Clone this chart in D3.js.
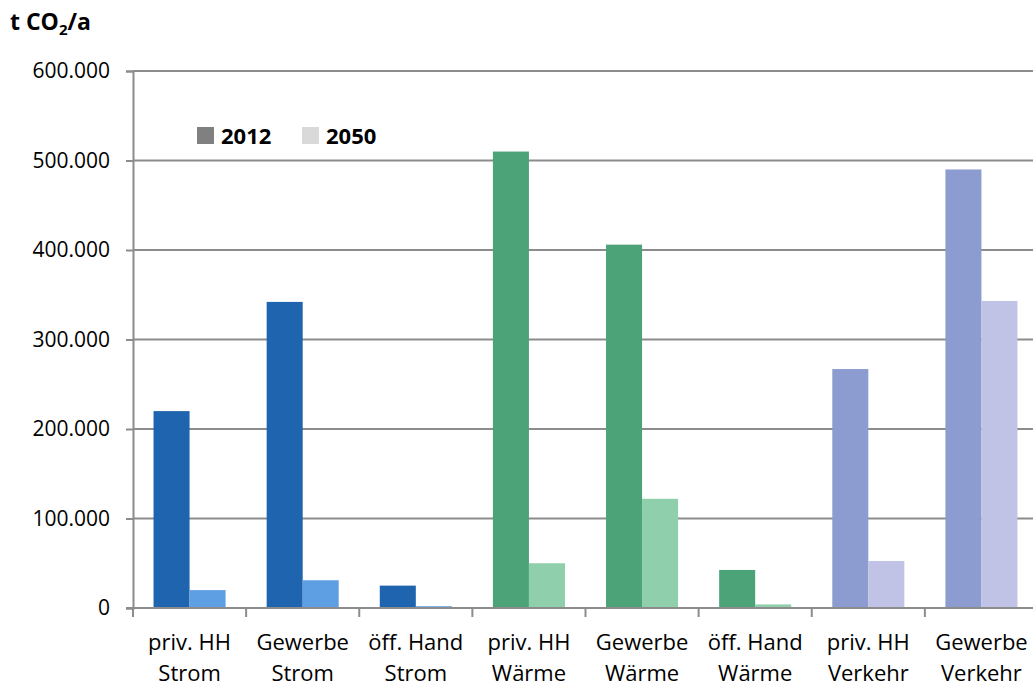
<!DOCTYPE html>
<html>
<head>
<meta charset="utf-8">
<script src="https://cdn.jsdelivr.net/npm/d3@7"></script>
<style>
  html, body { margin: 0; padding: 0; background: #fff; }
  svg { display: block; font-family: "Open Sans", Lato, sans-serif; }
</style>
</head>
<body>
<svg id="chart" width="1033" height="688"></svg>
<script>
// CO2 emissions by sector, 2012 vs. 2050 (t CO2 per year)
const categories = [
  ["priv. HH", "Strom"], ["Gewerbe", "Strom"], ["öff. Hand", "Strom"],
  ["priv. HH", "Wärme"], ["Gewerbe", "Wärme"], ["öff. Hand", "Wärme"],
  ["priv. HH", "Verkehr"], ["Gewerbe", "Verkehr"]
];
const years = ["2012", "2050"];
const values2012 = [220000, 342000, 25000, 510000, 406000, 42500, 267000, 490000];
const values2050 = [20000, 31000, 2000, 50000, 122000, 4000, 52500, 343000];
const yTicks = [0, 100000, 200000, 300000, 400000, 500000, 600000];

// colour per category group (Strom / Wärme / Verkehr) and year
const palette = {
  "Strom":   ["#1E64AE", "#5E9FE3"],
  "Wärme":   ["#4BA377", "#8FCFAB"],
  "Verkehr": ["#8D9CD0", "#C0C3E5"]
};
const legendColors = ["#808080", "#D9D9D9"];

const svg = d3.select("#chart");
const plotLeft = 133, plotRight = 1038, plotTop = 71, plotBottom = 608;

const y = d3.scaleLinear().domain([0, 600000]).range([plotBottom, plotTop]);
const x0 = d3.scaleBand().domain(d3.range(categories.length)).range([plotLeft, plotRight]).padding(0);
const x1 = d3.scaleBand().domain(years).range([0, x0.bandwidth()]).paddingInner(0).paddingOuter(0.57);

const fmt = v => d3.format(",")(v).replace(/,/g, ".");

// horizontal gridlines
svg.append("g")
  .selectAll("line")
  .data(yTicks.filter(t => t > 0))
  .join("line")
  .attr("x1", plotLeft).attr("x2", 1033)
  .attr("y1", d => y(d)).attr("y2", d => y(d))
  .attr("stroke", "#8C8C8C").attr("stroke-width", 2);

// bars
const rows = categories.map((c, i) => ({ i, group: c[1], vals: [values2012[i], values2050[i]] }));
const groups = svg.append("g").selectAll("g")
  .data(rows).join("g")
  .attr("transform", d => `translate(${x0(d.i)},0)`);
groups.selectAll("rect")
  .data(d => years.map((yr, k) => ({ yr, k, v: d.vals[k], group: d.group })))
  .join("rect")
  .attr("x", d => x1(d.yr))
  .attr("width", x1.bandwidth())
  .attr("y", d => y(d.v))
  .attr("height", d => plotBottom - y(d.v))
  .attr("fill", d => palette[d.group][d.k]);

// y axis
const yAxis = d3.axisLeft(y).tickValues(yTicks).tickFormat(fmt).tickSize(7).tickPadding(16);
const gy = svg.append("g").attr("transform", `translate(${plotLeft},0)`).call(yAxis);
gy.select(".domain").attr("stroke", "#8C8C8C").attr("stroke-width", 2);
gy.selectAll(".tick line").attr("stroke", "#8C8C8C").attr("stroke-width", 2);
gy.selectAll(".tick text").attr("font-size", 21).attr("fill", "#000")
  .attr("font-family", "'Open Sans', sans-serif");

// x axis (category boundaries as ticks)
const xb = d3.scaleLinear().domain([0, categories.length]).range([plotLeft, plotRight]);
svg.append("line")
  .attr("x1", plotLeft - 7).attr("x2", 1033)
  .attr("y1", plotBottom).attr("y2", plotBottom)
  .attr("stroke", "#8C8C8C").attr("stroke-width", 2);
svg.append("g").selectAll("line")
  .data(d3.range(categories.length + 1))
  .join("line")
  .attr("x1", d => xb(d)).attr("x2", d => xb(d))
  .attr("y1", plotBottom).attr("y2", plotBottom + 9)
  .attr("stroke", "#8C8C8C").attr("stroke-width", 2);

// category labels (two lines)
const lab = svg.append("g").selectAll("text")
  .data(categories.map((c, i) => ({ c, i })))
  .join("text")
  .attr("text-anchor", "middle")
  .attr("font-size", 22)
  .attr("fill", "#000")
  .attr("x", d => x0(d.i) + x0.bandwidth() / 2);
lab.append("tspan").attr("x", d => x0(d.i) + x0.bandwidth() / 2).attr("y", 650).text(d => d.c[0]);
lab.append("tspan").attr("x", d => x0(d.i) + x0.bandwidth() / 2).attr("y", 681).text(d => d.c[1]);

// axis title
const title = svg.append("text").attr("x", 10).attr("y", 30)
  .attr("font-size", 23).attr("font-weight", "bold").attr("fill", "#000");
title.append("tspan").text("t CO");
title.append("tspan").attr("font-size", 15).attr("dy", 5).text("2");
title.append("tspan").attr("dy", -5).text("/a");

// legend
const legend = svg.append("g").selectAll("g")
  .data(years).join("g")
  .attr("transform", (d, i) => `translate(${[197, 302][i]},127)`);
legend.append("rect").attr("width", 17).attr("height", 17)
  .attr("fill", (d, i) => legendColors[i]);
legend.append("text").attr("x", 24).attr("y", 17)
  .attr("font-size", 22).attr("font-weight", "bold").attr("fill", "#000")
  .text(d => d);
</script>
</body>
</html>
